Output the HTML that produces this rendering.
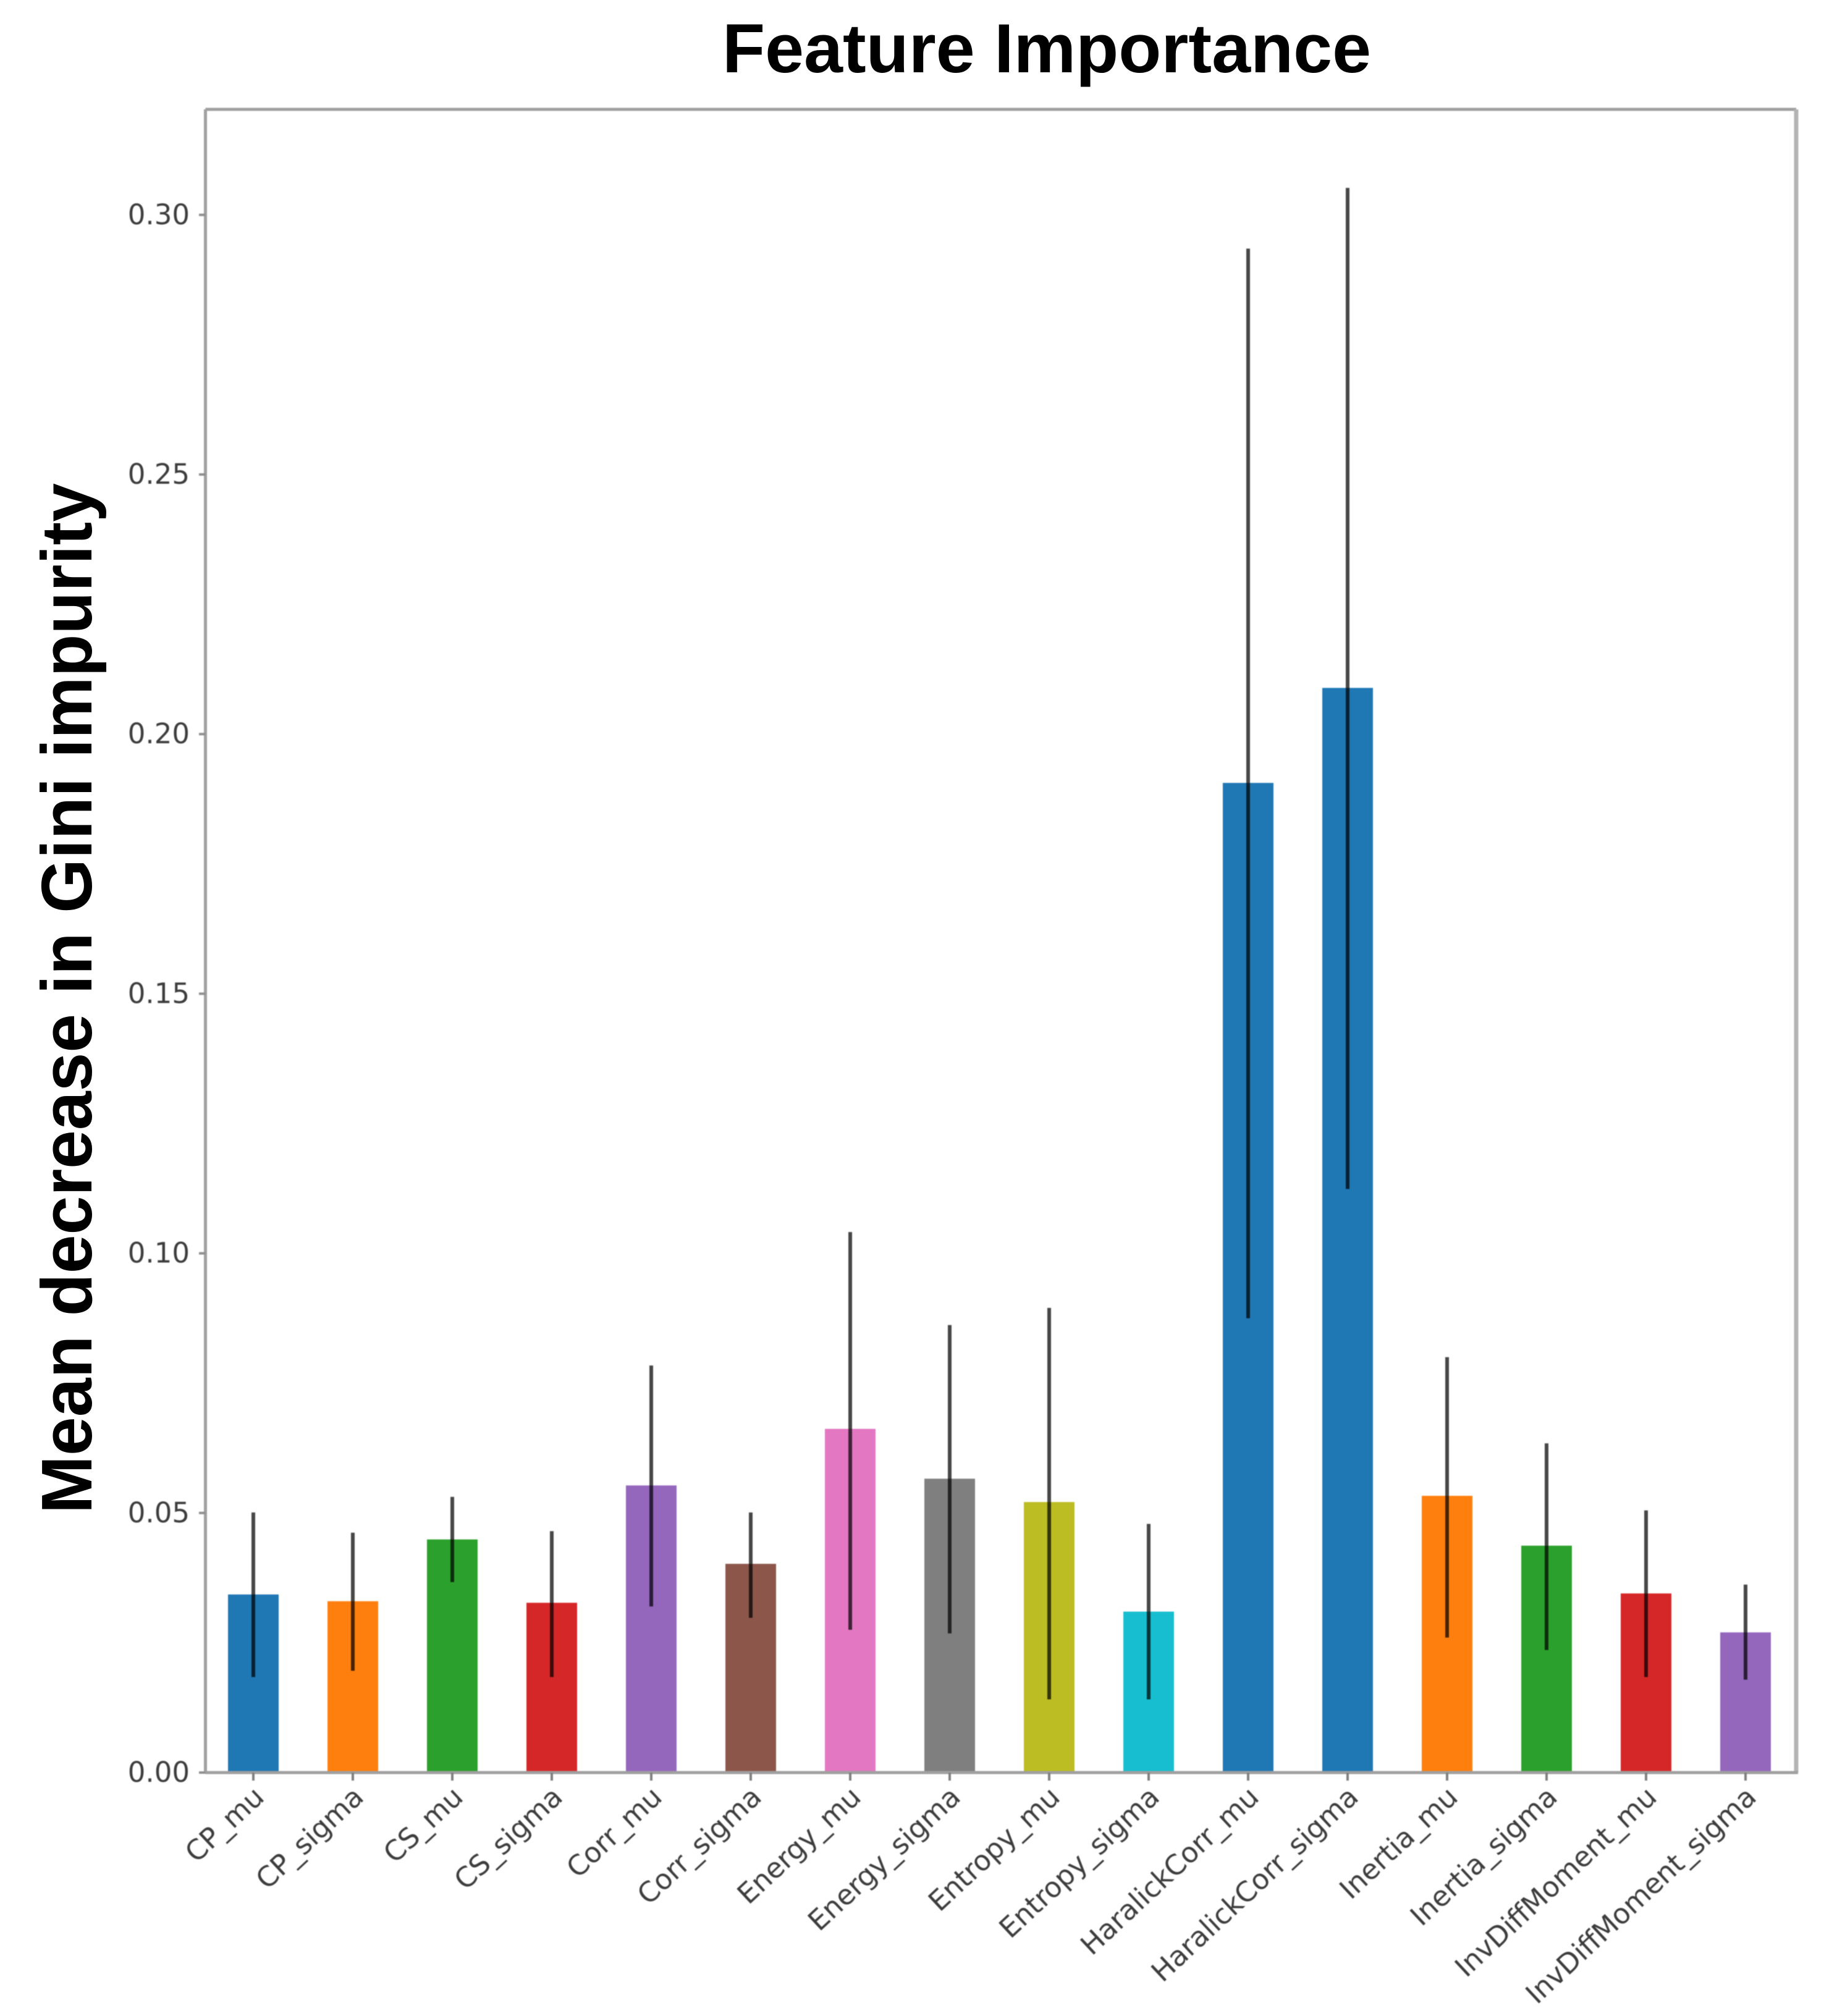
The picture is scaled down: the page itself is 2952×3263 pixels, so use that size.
<!DOCTYPE html>
<html lang="en">
<head>
<meta charset="utf-8">
<title>Feature Importance</title>
<style>
  html, body { margin: 0; padding: 0; background: #ffffff; }
  svg { display: block; }
</style>
</head>
<body>
<svg id="chart" xmlns="http://www.w3.org/2000/svg" width="2952" height="3263" viewBox="0 0 2952 3263">
  <rect x="0" y="0" width="2952" height="3263" fill="#ffffff"/>
  <text x="1694" y="117" text-anchor="middle" font-family="'Liberation Sans', sans-serif" font-weight="700" font-size="112" textLength="1050" lengthAdjust="spacingAndGlyphs" fill="#000000">Feature Importance</text>
  <text transform="translate(148,1616) rotate(-90)" text-anchor="middle" font-family="'Liberation Sans', sans-serif" font-weight="700" font-size="116" textLength="1668" lengthAdjust="spacingAndGlyphs" fill="#000000">Mean decrease in Gini impurity</text>
  <g id="plot" style="filter:blur(0.9px)"></g>
</svg>
<script>
const categories = ["CP_mu","CP_sigma","CS_mu","CS_sigma","Corr_mu","Corr_sigma","Energy_mu","Energy_sigma","Entropy_mu","Entropy_sigma","HaralickCorr_mu","HaralickCorr_sigma","Inertia_mu","Inertia_sigma","InvDiffMoment_mu","InvDiffMoment_sigma"];
const importance = [0.0343,0.033,0.0449,0.0327,0.0553,0.0402,0.0662,0.0566,0.0521,0.031,0.1906,0.2089,0.0533,0.0437,0.0345,0.027];
const errorUpper = [0.0501,0.0462,0.0531,0.0465,0.0784,0.0501,0.1041,0.0862,0.0895,0.0479,0.2935,0.3052,0.08,0.0634,0.0505,0.0362];
const errorLower = [0.0184,0.0196,0.0367,0.0184,0.032,0.0298,0.0275,0.0268,0.0141,0.0141,0.0875,0.1124,0.026,0.0236,0.0184,0.0179];
const barColors = ["#1f77b4","#ff7f0e","#2ca02c","#d62728","#9467bd","#8c564b","#e377c2","#7f7f7f","#bcbd22","#17becf","#1f77b4","#1f77b4","#ff7f0e","#2ca02c","#d62728","#9467bd"];
const yTickValues = [0,0.05,0.10,0.15,0.20,0.25,0.30];
const yTickLabels = ["0.00","0.05","0.10","0.15","0.20","0.25","0.30"];

const NS = "http://www.w3.org/2000/svg";
const plot = document.getElementById("plot");
function xScale(i) { return 410 + 161 * i; }
function yScale(v) { return 2869 - 8404 * v; }
function mk(tag, attrs) {
  const el = document.createElementNS(NS, tag);
  for (const k in attrs) el.setAttribute(k, attrs[k]);
  plot.appendChild(el);
  return el;
}

const plotLeft = 332.5, plotRight = 2907, plotTop = 177, plotBottom = 2869;

categories.forEach(function (name, i) {
  const bar = mk("rect", { x: xScale(i) - 41, y: yScale(importance[i]), width: 82, height: yScale(0) - yScale(importance[i]), fill: barColors[i] });
  
  
});

categories.forEach(function (name, i) {
  const err = mk("line", { x1: xScale(i), x2: xScale(i), y1: yScale(errorUpper[i]), y2: yScale(errorLower[i]), stroke: "#000000", "stroke-width": 6, "stroke-opacity": 0.72 });
  
  
});

const spineTop = mk("line", { x1: plotLeft, x2: plotRight, y1: plotTop, y2: plotTop, stroke: "#a0a0a0", "stroke-width": 5 });


const spineLeft = mk("line", { x1: plotLeft, x2: plotLeft, y1: plotTop, y2: plotBottom, stroke: "#a0a0a0", "stroke-width": 5 });


const spineRight = mk("line", { x1: plotRight, x2: plotRight, y1: plotTop, y2: plotBottom, stroke: "#b4b4b4", "stroke-width": 7 });


const spineBottom = mk("line", { x1: plotLeft, x2: plotRight + 3, y1: plotBottom, y2: plotBottom, stroke: "#a0a0a0", "stroke-width": 5 });



yTickValues.forEach(function (v, i) {
  const tick = mk("line", { x1: 322, x2: plotLeft, y1: yScale(v), y2: yScale(v), stroke: "#909090", "stroke-width": 4 });
  
  
  const label = mk("text", { x: 307, y: yScale(v) + 15, "text-anchor": "end", "font-family": "'DejaVu Sans', sans-serif", "font-size": 45, fill: "#3c3c3c" });
  label.textContent = yTickLabels[i];
  
  
});

categories.forEach(function (name, i) {
  const tick = mk("line", { x1: xScale(i), x2: xScale(i), y1: plotBottom, y2: 2882, stroke: "#808080", "stroke-width": 4 });
  
  
  const ax = xScale(i) + 20, ay = 2912;
  const label = mk("text", { x: ax, y: ay, "text-anchor": "end", transform: "rotate(-43 " + ax + " " + ay + ")", "font-family": "'DejaVu Sans', sans-serif", "font-size": 45, fill: "#3c3c3c" });
  label.textContent = name;
  
  
});
</script>
</body>
</html>
